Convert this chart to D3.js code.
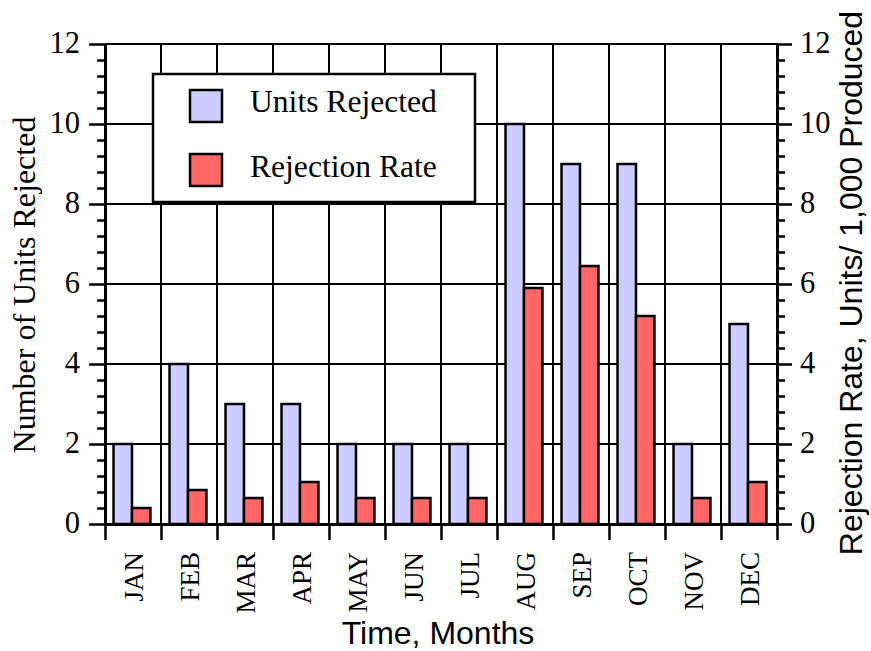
<!DOCTYPE html>
<html>
<head>
<meta charset="utf-8">
<script src="https://cdn.jsdelivr.net/npm/d3@7/dist/d3.min.js"></script>
<style>
  html, body { margin: 0; padding: 0; background: #fff; }
  svg { display: block; }
</style>
</head>
<body>
<svg id="chart" width="871" height="651"></svg>
<script>
// Monthly quality data
const months = ["JAN", "FEB", "MAR", "APR", "MAY", "JUN", "JUL", "AUG", "SEP", "OCT", "NOV", "DEC"];
const unitsRejected = [2, 4, 3, 3, 2, 2, 2, 10, 9, 9, 2, 5];
const rejectionRate = [0.4, 0.85, 0.65, 1.05, 0.65, 0.65, 0.65, 5.9, 6.45, 5.2, 0.65, 1.05];
const seriesNames = ["Units Rejected", "Rejection Rate"];
const seriesColors = ["#ccccff", "#ff6666"];
const yTicks = [0, 2, 4, 6, 8, 10, 12];

const SERIF = "'Liberation Serif', 'Times New Roman', serif";
const SANS = "'Liberation Sans', Arial, Helvetica, sans-serif";

const svg = d3.select("#chart");
const plot = { left: 105, right: 777, top: 44, bottom: 524 };

const x = d3.scaleBand().domain(months).range([plot.left, plot.right]).padding(0);
const xEdge = d3.scaleLinear().domain([0, months.length]).range([plot.left, plot.right]);
const xSeries = d3.scaleBand().domain(seriesNames)
  .range([x.bandwidth() * 0.152, x.bandwidth() * 0.812]).padding(0);
const yLeft = d3.scaleLinear().domain([0, 12]).range([plot.bottom, plot.top]);
const yRight = d3.scaleLinear().domain([0, 12]).range([plot.bottom, plot.top]);

const rows = months.map((m, i) => ({
  month: m,
  values: [unitsRejected[i], rejectionRate[i]]
}));

// Grid
const grid = svg.append("g").attr("stroke", "#000").attr("stroke-width", 2);
grid.selectAll("line.h").data(yTicks.filter(v => v > 0)).join("line")
  .attr("class", "h")
  .attr("x1", plot.left).attr("x2", plot.right)
  .attr("y1", d => yLeft(d)).attr("y2", d => yLeft(d));
grid.selectAll("line.v").data(d3.range(1, months.length)).join("line")
  .attr("class", "v")
  .attr("x1", d => xEdge(d)).attr("x2", d => xEdge(d))
  .attr("y1", plot.top).attr("y2", plot.bottom);

// Bars
const groups = svg.append("g").selectAll("g").data(rows).join("g")
  .attr("transform", d => `translate(${x(d.month)},0)`);
groups.selectAll("rect").data(d => d.values.map((v, k) => ({ k, v }))).join("rect")
  .attr("x", d => xSeries(seriesNames[d.k]))
  .attr("width", xSeries.bandwidth())
  .attr("y", d => (d.k === 0 ? yLeft : yRight)(d.v))
  .attr("height", d => plot.bottom - (d.k === 0 ? yLeft : yRight)(d.v))
  .attr("fill", d => seriesColors[d.k])
  .attr("stroke", "#000")
  .attr("stroke-width", 2.5);

// Legend
const legend = svg.append("g");
legend.append("rect")
  .attr("x", 153).attr("y", 74).attr("width", 322).attr("height", 128)
  .attr("fill", "#fff").attr("stroke", "#000").attr("stroke-width", 2.5);
seriesNames.forEach((name, k) => {
  legend.append("rect")
    .attr("x", 190).attr("y", 90 + k * 64).attr("width", 32).attr("height", 32)
    .attr("fill", seriesColors[k]).attr("stroke", "#000").attr("stroke-width", 2.5);
  legend.append("text")
    .attr("x", 250).attr("y", 112 + k * 64.5)
    .attr("font-family", SERIF).attr("font-size", 31.6)
    .text(name);
});

// Minor ticks (every 0.4 units)
const minor = d3.range(1, 30).map(i => i * 0.4).filter(v => Math.abs(v / 2 - Math.round(v / 2)) > 1e-6);

function styleAxis(g) {
  g.selectAll(".domain").attr("stroke", "#000").attr("stroke-width", 3);
  g.selectAll(".tick line").attr("stroke", "#000").attr("stroke-width", 2.5);
  g.selectAll(".tick text").attr("fill", "#000");
}

// Left axis
const gl = svg.append("g").attr("transform", `translate(${plot.left},0)`)
  .call(d3.axisLeft(yLeft).tickValues(yTicks).tickSize(16).tickSizeOuter(0).tickPadding(9));
gl.call(styleAxis);
gl.selectAll(".tick text").attr("font-family", SERIF).attr("font-size", 30.5).attr("dy", "0.28em");
svg.append("g").attr("transform", `translate(${plot.left},0)`)
  .call(d3.axisLeft(yLeft).tickValues(minor).tickSize(8).tickFormat(""))
  .call(g => g.select(".domain").remove())
  .call(styleAxis);

// Right axis
const gr = svg.append("g").attr("transform", `translate(${plot.right},0)`)
  .call(d3.axisRight(yRight).tickValues(yTicks).tickSize(15).tickSizeOuter(0).tickPadding(8));
gr.call(styleAxis);
gr.selectAll(".tick text").attr("font-family", SERIF).attr("font-size", 30.5).attr("dy", "0.28em");
svg.append("g").attr("transform", `translate(${plot.right},0)`)
  .call(d3.axisRight(yRight).tickValues(minor).tickSize(8).tickFormat(""))
  .call(g => g.select(".domain").remove())
  .call(styleAxis);

// Bottom axis: ticks on month boundaries
const gb = svg.append("g").attr("transform", `translate(0,${plot.bottom})`)
  .call(d3.axisBottom(xEdge).tickValues(d3.range(0, months.length + 1)).tickSize(16).tickSizeOuter(0).tickFormat(""));
gb.call(styleAxis);

// Month labels
svg.append("g").selectAll("text").data(months).join("text")
  .attr("transform", d => `translate(${x(d) + x.bandwidth() / 2 + 9.5},552) rotate(-90)`)
  .attr("text-anchor", "end")
  .attr("font-family", SERIF).attr("font-size", 27)
  .text(d => d);

// Axis titles
svg.append("text")
  .attr("x", (plot.left + plot.right) / 2 - 3).attr("y", 644)
  .attr("text-anchor", "middle")
  .attr("font-family", SANS).attr("font-size", 32)
  .text("Time, Months");

svg.append("text")
  .attr("transform", `translate(35,${(plot.top + plot.bottom) / 2 + 1}) rotate(-90)`)
  .attr("text-anchor", "middle")
  .attr("font-family", SERIF).attr("font-size", 32)
  .text("Number of Units Rejected");

svg.append("text")
  .attr("transform", `translate(862,${(plot.top + plot.bottom) / 2 - 1}) rotate(-90)`)
  .attr("text-anchor", "middle")
  .attr("font-family", SANS).attr("font-size", 32)
  .text("Rejection Rate, Units/ 1,000 Produced");
</script>
</body>
</html>
